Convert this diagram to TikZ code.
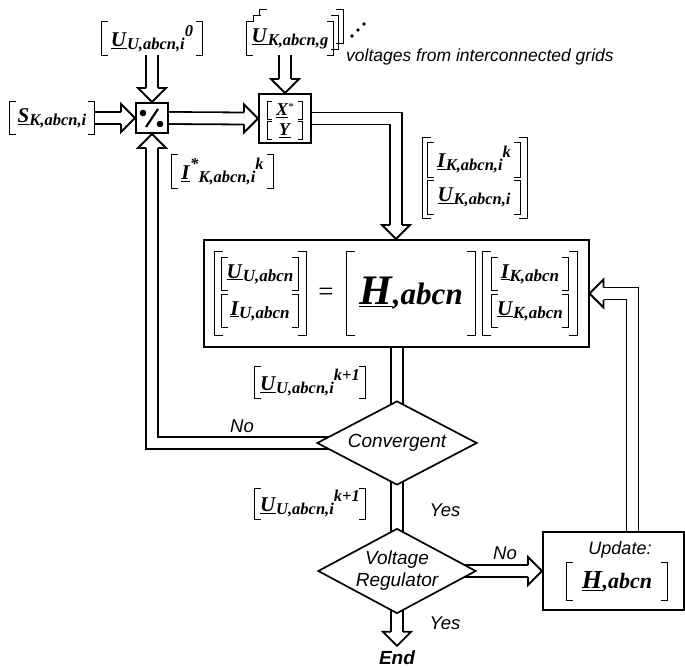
\documentclass[tikz,border=0pt]{standalone}
\usepackage{fontspec}
\setmainfont{Liberation Serif}
\setsansfont{Liberation Sans}
\usetikzlibrary{shapes.geometric,backgrounds,positioning}

\newcommand{\bv}[1]{\textbf{\textit{#1}}}
\newcommand{\lsym}[2][21]{{\fontsize{#1}{#1}\selectfont\underline{\bv{#2}}}}
\newcommand{\lsub}[2][16.5]{\raisebox{-3pt}{\fontsize{#1}{#1}\selectfont\bv{#2}}}
\newcommand{\lsup}[1]{\raisebox{10pt}{\fontsize{16.5}{16.5}\selectfont\bv{#1}}}
\newcommand{\brackets}[2][6]{\draw[brk] ([xshift=#1pt]#2.north west) -| (#2.south west) -- ++(#1,0) ([xshift=-#1pt]#2.north east) -| (#2.south east) -- ++(-#1,0);}

\begin{document}
\begin{tikzpicture}[x=1pt,y=-1pt,line join=miter]
\useasboundingbox (0,0) rectangle (685,668);
\tikzset{brk/.style={draw,line width=1.2pt},lbl/.style={inner sep=0pt},frame/.style={draw,line width=2pt,inner sep=0pt},
  dec/.style={draw,fill=white,diamond,line width=1.7pt,inner sep=0pt,shape aspect=1.9,font=\sffamily\itshape\fontsize{19}{22}\selectfont},
  shaft/.style={draw,double,double distance=10.2pt,line width=1.8pt},
  tag/.style={inner sep=1pt,font=\sffamily\itshape\fontsize{18.5}{20}\selectfont},
  hollowhead/.pic={\draw[line width=1.8pt] (-14,6) -- (-14,14) -- (0,0) -- (-14,-14) -- (-14,-6);}}
% inputs
\node[lbl,minimum width=84pt,minimum height=32pt] (sk) at (52,118) {\lsym{S}\lsub{K,abcn,i}}; \brackets{sk}
\node[lbl,minimum width=100pt,minimum height=33pt] (uu0) at (152,38.5) {\lsym{U}\lsub{U,abcn,i}\lsup{0}}; \brackets{uu0}
\node[lbl,minimum width=86pt,minimum height=33pt] (ukg) at (290,38.5) {\lsym{U}\lsub{K,abcn,g}}; \brackets{ukg}
\draw[brk] ([shift={(14,-6)}]ukg.north west) -- ([shift={(7,-6)}]ukg.north west) -- ([shift={(7,0)}]ukg.north west);
\draw[brk] ([shift={(20,-12)}]ukg.north west) -- ([shift={(13,-12)}]ukg.north west) -- ([shift={(13,-6)}]ukg.north west);
\draw[brk] ([shift={(-2,-6)}]ukg.north east) -- ([shift={(5,-6)}]ukg.north east) -- ([shift={(5,-6)}]ukg.south east) -- ([shift={(-2,-6)}]ukg.south east);
\draw[brk] ([shift={(3,-12)}]ukg.north east) -- ([shift={(10,-12)}]ukg.north east) -- ([shift={(10,-12)}]ukg.south east) -- ([shift={(3,-12)}]ukg.south east);
\fill (352,36) circle (1.8) (358,30) circle (1.8) (364,24) circle (1.8);
\node[tag,anchor=west,font=\sffamily\itshape\fontsize{17.5}{20}\selectfont] (vtxt) at (345,57) {voltages from interconnected grids};
% divider and X/Y block
\node[frame,minimum width=32pt,minimum height=30pt] (div) at (152,118) {};
\fill ([shift={(-9,-5)}]div.center) circle (3.3) ([shift={(8,6)}]div.center) circle (3.3);
\draw[line width=2.2pt] ([shift={(-6,9)}]div.center) -- ([shift={(6,-9)}]div.center);
\node[frame,minimum width=52pt,minimum height=49pt] (xy) at (285,118.5) {};
\node[lbl,minimum width=34pt,minimum height=17pt] (xr) at (285,110.5) {\lsym[18]{X}\raisebox{5pt}{\fontsize{11}{11}\selectfont *}}; \brackets[4]{xr}
\node[lbl,minimum width=34pt,minimum height=17pt] (yr) at (285,130.5) {\lsym[18]{Y}}; \brackets[4]{yr}
\node[lbl,minimum width=101pt,minimum height=33pt] (istar) at (222.5,171.5) {\lsym{I}\lsup{*}\lsub{K,abcn,i}\lsup{k}}; \brackets{istar}
\node[lbl,minimum width=92pt,minimum height=34pt] (ik) at (474,160) {\lsym{I}\lsub{K,abcn,i}\lsup{k}}; \brackets{ik}
\node[lbl,minimum width=92pt,minimum height=34pt] (uk) at (474,197.5) {\lsym{U}\lsub{K,abcn,i}}; \brackets{uk}
\node[lbl,minimum width=104pt,minimum height=80pt] (ikuk) at (475,178) {}; \brackets[8]{ikuk}
% network equation
\node[frame,minimum width=385pt,minimum height=107pt] (hbox) at (396,293.5) {};
\node[lbl,minimum width=76pt,minimum height=32pt] (uu) at (260,274) {\lsym{U}\lsub[17]{U,abcn}}; \brackets{uu}
\node[lbl,minimum width=76pt,minimum height=32pt] (iu) at (260,311) {\lsym{I}\lsub[17]{U,abcn}}; \brackets{iu}
\node[lbl,minimum width=91pt,minimum height=83pt] (lhs) at (260.5,293.5) {}; \brackets[8]{lhs}
\node[lbl] (eq) at (326,294) {\fontsize{27}{27}\selectfont =};
\node[lbl,minimum width=128pt,minimum height=83pt] (hmat) at (411,293.5) {\lsym[42]{H}{\fontsize{31}{31}\selectfont\bv{,abcn}}}; \brackets[8]{hmat}
\node[lbl,minimum width=76pt,minimum height=32pt] (ik2) at (530,274) {\lsym{I}\lsub[17]{K,abcn}}; \brackets{ik2}
\node[lbl,minimum width=76pt,minimum height=32pt] (uk2) at (530,311) {\lsym{U}\lsub[17]{K,abcn}}; \brackets{uk2}
\node[lbl,minimum width=94pt,minimum height=83pt] (rhs) at (530,293.5) {}; \brackets[8]{rhs}
% iteration
\node[lbl,minimum width=110pt,minimum height=31pt] (uk1a) at (310,382.5) {\lsym{U}\lsub{U,abcn,i}\lsup{k+1}}; \brackets{uk1a}
\node[dec,minimum width=160pt,minimum height=84pt] (conv) at (397,443) {Convergent};
\node[lbl,minimum width=110pt,minimum height=31pt] (uk1b) at (310,504) {\lsym{U}\lsub{U,abcn,i}\lsup{k+1}}; \brackets{uk1b}
\node[dec,minimum width=158pt,minimum height=85pt] (vreg) at (397,571) {\makebox[0pt]{\begin{tabular}{@{}c@{}}Voltage\\Regulator\end{tabular}}};
\node[frame,minimum width=141pt,minimum height=78pt] (upd) at (613.5,571) {};
\node[tag,font=\sffamily\itshape\fontsize{18}{20}\selectfont] (updtxt) at (620,550) {Update:};
\node[lbl,minimum width=100pt,minimum height=37pt] (hupd) at (617,581.5) {\lsym[26]{H}{\fontsize{22}{22}\selectfont\bv{,abcn}}}; \brackets{hupd}
\node[tag] (no1) at (242,426) {No};
\node[tag] (no2) at (505,553) {No};
\node[tag] (yes1) at (445,510) {Yes};
\node[tag] (yes2) at (445,623) {Yes};
\node[tag,font=\sffamily\bfseries\itshape\fontsize{19}{20}\selectfont] (endn) at (397,658) {End};
\coordinate (endtip) at ([yshift=4pt]endn.north);
% connectors
\begin{scope}[on background layer]
\draw[shaft] (sk.east) -- ([xshift=-14pt]div.west);
\draw[shaft] (div.east) -- ([xshift=-14pt]xy.west);
\draw[shaft] (uu0.south) -- ([yshift=14pt]div.north);
\draw[shaft] (xy.north |- ukg.south) -- ([yshift=14pt]xy.north);
\draw[shaft] (xy.east) -| ([yshift=14pt]hbox.north);
\draw[shaft] (conv.center) -| ([yshift=-14pt]div.south);
\draw[shaft] (conv.center |- hbox.south) -- (conv.center);
\draw[shaft] (conv.center) -- (vreg.center);
\draw[shaft] (vreg.center) -- ([yshift=14pt]endtip);
\draw[shaft] (vreg.center |- upd.west) -- ([xshift=-14pt]upd.west);
\draw[shaft] ([xshift=19pt]upd.north) |- ([xshift=14pt]hbox.east);
\end{scope}
\pic at (div.west) {hollowhead};
\pic at (xy.west) {hollowhead};
\pic[rotate=-90] at (div.north) {hollowhead};
\pic[rotate=-90] at (xy.north) {hollowhead};
\pic[rotate=-90] at (hbox.north) {hollowhead};
\pic[rotate=90] at (div.south) {hollowhead};
\pic[rotate=-90] at (endtip) {hollowhead};
\pic at (upd.west) {hollowhead};
\pic[rotate=180] at (hbox.east) {hollowhead};
\end{tikzpicture}
\end{document}
